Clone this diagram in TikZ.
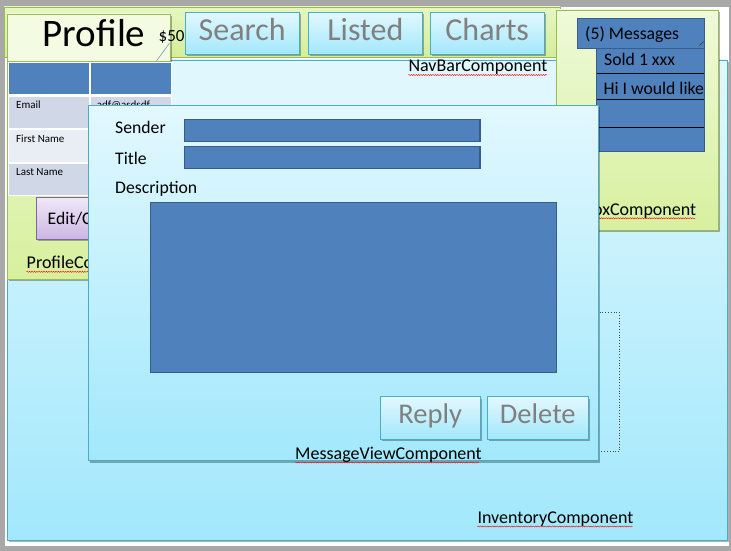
\documentclass[tikz,border=0pt]{standalone}
\usepackage{fontspec}
\setmainfont{Carlito}
\usetikzlibrary{shadows,decorations.pathmorphing}
\definecolor{bggray}{HTML}{A8A8A8}
\definecolor{tealb}{HTML}{4BACC6}
\definecolor{lbtop}{HTML}{E2F8FE}
\definecolor{lbbot}{HTML}{A2E8FC}
\definecolor{navfill}{HTML}{E0F7FE}
\definecolor{grnb}{HTML}{9BBB59}
\definecolor{grtop}{HTML}{EFFAD9}
\definecolor{grbot}{HTML}{D7F09E}
\definecolor{bandtop}{HTML}{E6F6C0}
\definecolor{bandbot}{HTML}{D4EE9B}
\definecolor{titlefill}{HTML}{F3FBE2}
\definecolor{hdrblue}{HTML}{4F81BD}
\definecolor{rowa}{HTML}{D0D8E8}
\definecolor{rowb}{HTML}{E9EDF4}
\definecolor{fieldb}{HTML}{385D8A}
\definecolor{purtop}{HTML}{F0E8F8}
\definecolor{purbot}{HTML}{CBB6E2}
\definecolor{purb}{HTML}{8064A2}
\definecolor{btntxt}{HTML}{808080}
\newcommand\fsz[1]{\fontsize{#1}{#1}\selectfont}
\begin{document}
\begin{tikzpicture}[x=1pt,y=-1pt,
  sh/.style={drop shadow={shadow xshift=2pt,shadow yshift=-2pt,opacity=0.3,fill=black}},
  lightbox/.style={draw=tealb,line width=0.8pt,top color=lbtop,bottom color=lbbot},
  greenbox/.style={draw=grnb,line width=0.8pt,top color=grtop,bottom color=grbot},
  fieldbox/.style={draw=fieldb,line width=1.2pt,fill=hdrblue},
  btnbox/.style={draw=tealb,line width=0.8pt,top color=lbtop,bottom color=lbbot,sh},
  btntext/.style={inner sep=0pt,anchor=base,text=btntxt},
  lbl/.style={inner sep=0pt,anchor=base west,font={\fsz{17.7}}},
  complbl/.style={inner sep=0pt,anchor=base west,font={\fsz{18}}},
  tbl/.style={inner sep=0pt,anchor=base west,font={\fsz{11}}},
  squig/.style={draw=red,line width=0.4pt,decorate,decoration={snake,amplitude=0.6pt,segment length=2.4pt}}]
\useasboundingbox (0,0) rectangle (731,551);
% background
\fill[bggray] (0,0) rectangle (731,551);
\fill[white] (5,7) rectangle (729,546);
% Inventory component
\path[lightbox,sh] (7,60) rectangle (727,540);
\node[complbl] (invlbl) at (477.3,523.3) {InventoryComponent};
\draw[squig] (477.3,526.5) -- (632.7,526.5);
\coordinate (br1) at (599.5,312.3);
\coordinate (br2) at (619.3,312.3);
\coordinate (br3) at (619.3,451.7);
\coordinate (br4) at (599.5,451.7);
\draw[dotted,line width=0.8pt,black!70] (br1) -- (br2) -- (br3) -- (br4);
% NavBar component
\path[draw=tealb,line width=0.8pt,fill=navfill] (7,60) rectangle (600,105);
\node[complbl] (navlbl) at (408.3,71.7) {NavBarComponent};
\draw[squig] (408.3,75) -- (547.7,75);
\path[draw=grnb,line width=0.8pt,top color=bandtop,bottom color=bandbot] (4,7) rectangle (560,57);
\path[btnbox] (185,12.3) rectangle (299.3,54.3);
\path[btnbox] (308.3,12.3) rectangle (422.3,54.3);
\path[btnbox] (430,12.3) rectangle (544.3,54.3);
\node[btntext,font={\fsz{32}}] (search) at (242.2,40.7) {Search};
\node[btntext,font={\fsz{32}}] (listed) at (365.3,40.7) {Listed};
\node[btntext,font={\fsz{32}}] (charts) at (487.2,40.7) {Charts};
% Profile component
\path[greenbox,sh] (7,14) rectangle (170,279);
\fill[white] (8,61.7) rectangle (172,196);
\fill[hdrblue] (9,62.7) rectangle (89,94);
\fill[hdrblue] (91,62.7) rectangle (171,94);
\fill[rowa] (9,96.7) rectangle (89,128.3);
\fill[rowa] (91,96.7) rectangle (171,128.3);
\fill[rowb] (9,129.8) rectangle (89,162.3);
\fill[rowb] (91,129.8) rectangle (171,162.3);
\fill[rowa] (9,163.8) rectangle (89,195);
\fill[rowa] (91,163.8) rectangle (171,195);
\node[tbl] (email) at (16,108.3) {Email};
\node[tbl] (emailv) at (96.7,108.3) {adf@asdsdf};
\node[tbl] (fname) at (16,142.7) {First Name};
\node[tbl] (lname) at (16,175.7) {Last Name};
\path[draw=grnb,line width=0.8pt,fill=titlefill] (7.3,14.3) rectangle (170,61.7);
\coordinate (fold1) at (156.7,60.7);
\coordinate (fold2) at (169.3,43.3);
\draw[hdrblue!80,line width=0.6pt] (fold1) -- (fold2);
\node[inner sep=0pt,anchor=base west,font={\fsz{39}}] (proftitle) at (42.5,46.7) {Profile};
\node[inner sep=0pt,anchor=base west,font={\fsz{17}}] (price) at (158.5,41.7) {\$50};
\path[draw=purb,line width=0.8pt,top color=purtop,bottom color=purbot,sh] (36,197.3) rectangle (140,239.3);
\node[lbl] (editbtn) at (47.5,224) {Edit/C};
\node[complbl] (proflbl) at (26.5,268.3) {ProfileComponent};
\draw[squig] (26.5,271.8) -- (160,271.8);
% Inbox component
\path[greenbox,sh] (556.7,10) rectangle (718.3,230);
\path[draw=fieldb,line width=1pt,fill=hdrblue] (596,48.3) rectangle (704.3,151);
\draw[black,line width=0.7pt] (596.5,73.3) -- (703.8,73.3);
\draw[black,line width=0.7pt] (596.5,99.3) -- (703.8,99.3);
\draw[black,line width=0.7pt] (596.5,127.7) -- (703.8,127.7);
\path[draw=fieldb,line width=1.2pt,fill=hdrblue] (577.7,18.3) rectangle (704.3,48.3);
\coordinate (mfold1) at (699.5,45.5);
\coordinate (mfold2) at (703.5,41.7);
\draw[black!80,line width=0.5pt] (mfold1) -- (mfold2);
\node[lbl] (msghdr) at (585,39.3) {(5) Messages};
\node[lbl] (msg1) at (604,65.7) {Sold 1 xxx};
\begin{scope}
\clip (597,74) rectangle (703.6,99);
\node[lbl] (msg2) at (603.3,94) {Hi I would like};
\end{scope}
\node[complbl] (inboxlbl) at (569.5,215) {InboxComponent};
\draw[squig] (569.5,218.3) -- (695,218.3);
% MessageView component
\path[lightbox,sh] (88.3,105) rectangle (598.3,460.7);
\node[lbl] (sender) at (115,133.3) {Sender};
\path[fieldbox] (184.3,119.3) rectangle (480,141.3);
\node[lbl] (title) at (115,164) {Title};
\path[fieldbox] (184.3,146.7) rectangle (480,168.3);
\node[lbl] (desc) at (115,193.3) {Description};
\path[fieldbox] (150.3,202.7) rectangle (556.7,372.3);
\path[btnbox] (380.3,396.7) rectangle (480,439);
\path[btnbox] (487.3,396.7) rectangle (588.3,439);
\node[btntext,font={\fsz{28.5}}] (reply) at (430.2,423.3) {Reply};
\node[btntext,font={\fsz{28.5}}] (delete) at (537.8,423.3) {Delete};
\node[complbl] (mvlbl) at (295,459) {MessageViewComponent};
\draw[squig] (295,462.5) -- (479,462.5);
\end{tikzpicture}
\end{document}
